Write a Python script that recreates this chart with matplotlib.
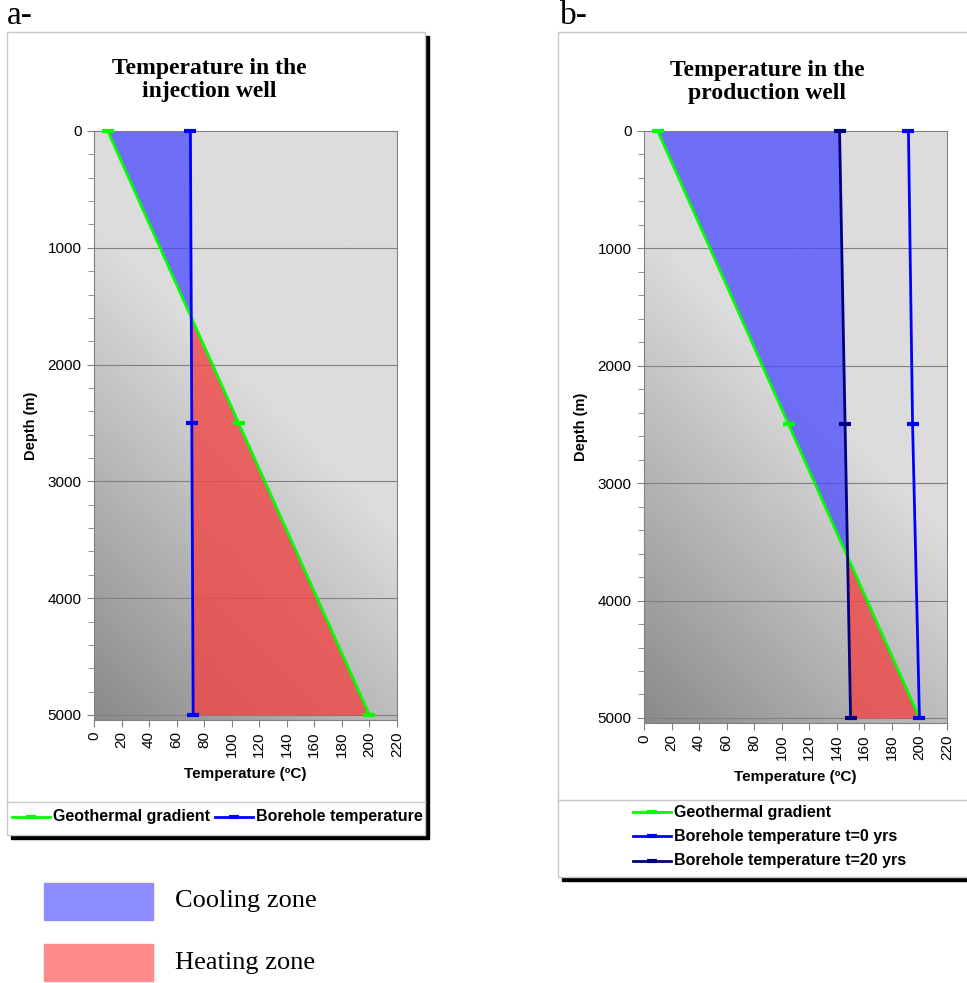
import numpy as np
import matplotlib
matplotlib.use('Agg')
import matplotlib.pyplot as plt
from matplotlib.patches import Rectangle
from matplotlib.lines import Line2D

# Dados
depth = [0, 2500, 5000]
geo_temp = [10, 105, 200]          # gradiente geotermico
inj_temp = [70, 71, 72]            # poco de injecao
prod_t0 = [192, 195, 200]          # poco de producao t=0
prod_t20 = [142, 146, 150]         # poco de producao t=20
x_ticks = list(range(0, 221, 20))
y_ticks = list(range(0, 5001, 1000))

W, H = 967, 983
fig = plt.figure(figsize=(W / 100, H / 100), dpi=100)
plt.rcParams['font.family'] = ['Liberation Sans', 'DejaVu Sans']


def fx(x):
    return x / W


def fy(y):
    return 1 - y / H


def frame(x0, y0, x1, y1):
    fig.patches.append(Rectangle((fx(x0 + 4), fy(y1 + 4)), fx(x1 - x0), (y1 - y0) / H,
                                 transform=fig.transFigure, color='black', zorder=-3))
    fig.patches.append(Rectangle((fx(x0), fy(y1)), fx(x1 - x0), (y1 - y0) / H,
                                 transform=fig.transFigure, facecolor='white',
                                 edgecolor='#c8c8c8', lw=1, zorder=-2))


frame(7, 32, 425, 835)
frame(558, 32, 975, 877)

# fundo em degrade
gx, gy = np.meshgrid(np.linspace(0, 1, 200), np.linspace(0, 1, 400))
t = (gx * 303 + gy * 589) / 892
grad = 0.54 + 0.32 * np.clip(t / 0.55, 0, 1)


def setup(ax):
    ax.imshow(grad, extent=[0, 1, 0, 1], transform=ax.transAxes, aspect='auto',
              cmap='gray', vmin=0, vmax=1, origin='lower', zorder=0)
    ax.set_xlim(0, 220)
    ax.set_ylim(5043, 0)
    ax.set_xticks(x_ticks)
    ax.set_xticklabels([str(v) for v in x_ticks], rotation=90, fontsize=11)
    ax.set_yticks(y_ticks)
    ax.set_yticks(range(0, 5001, 200), minor=True)
    ax.tick_params(axis='y', labelsize=11, length=5, color='#808080', pad=4)
    ax.tick_params(axis='y', which='minor', length=4, color='#808080')
    ax.tick_params(axis='x', length=5, color='#808080', pad=3)
    for v in y_ticks[1:]:
        ax.axhline(v, color='#808080', lw=0.8, zorder=1)
    for s in ax.spines.values():
        s.set_color('#808080')
    ax.set_ylabel('Depth (m)', fontsize=10.5, fontweight='bold')
    ax.set_xlabel('Temperature (ºC)', fontsize=11, fontweight='bold')
    ax.yaxis.set_label_coords(-0.185, 0.5)
    ax.xaxis.set_label_coords(0.5, -0.08)


def zones(ax, geo, bore):
    geo = np.array(geo)
    bore = np.array(bore)
    ax.fill_betweenx(depth, geo, bore, where=geo <= bore, interpolate=True,
                     color=(0.29, 0.29, 1.0), alpha=0.75, lw=0, zorder=2)
    ax.fill_betweenx(depth, geo, bore, where=geo >= bore, interpolate=True,
                     color=(0.94, 0.27, 0.27), alpha=0.8, lw=0, zorder=2)


mk = dict(marker='_', markersize=9, markeredgewidth=3)

# --- Painel a: poco de injecao ---
ax1 = fig.add_axes([fx(94), fy(720), fx(397 - 94), (720 - 131) / H])
setup(ax1)
zones(ax1, geo_temp, inj_temp)
g1, = ax1.plot(geo_temp, depth, color='#00ff00', lw=2, zorder=3, clip_on=False, **mk)
b1, = ax1.plot(inj_temp, depth, color='#0000ff', lw=2, zorder=3, clip_on=False, **mk)

# --- Painel b: poco de producao ---
ax2 = fig.add_axes([fx(644), fy(723), fx(947 - 644), (723 - 131) / H])
setup(ax2)
zones(ax2, geo_temp, prod_t20)
g2, = ax2.plot(geo_temp, depth, color='#00ff00', lw=2, zorder=3, clip_on=False, **mk)
b2, = ax2.plot(prod_t0, depth, color='#0000ff', lw=2, zorder=3, clip_on=False, **mk)
n2, = ax2.plot(prod_t20, depth, color='#000080', lw=2, zorder=3, clip_on=False, **mk)

# titulos
serif = ['Liberation Serif', 'DejaVu Serif']
fig.text(fx(209), fy(80), 'Temperature in the\ninjection well', ha='center', va='center',
         fontsize=17, fontweight='bold', family=serif, linespacing=1.15)
fig.text(fx(767), fy(82), 'Temperature in the\nproduction well', ha='center', va='center',
         fontsize=17, fontweight='bold', family=serif, linespacing=1.15)
fig.text(fx(7), fy(16), 'a-', ha='left', va='center', fontsize=24, family=serif)
fig.text(fx(560), fy(16), 'b-', ha='left', va='center', fontsize=24, family=serif)

# legendas das series
fig.add_artist(Line2D([fx(7), fx(425)], [fy(802), fy(802)], color='#c8c8c8', lw=1))
fig.add_artist(Line2D([fx(558), fx(967)], [fy(800), fy(800)], color='#c8c8c8', lw=1))


def leg_entry(line, x, y, label):
    fig.add_artist(Line2D([fx(x), fx(x + 38)], [fy(y), fy(y)], color=line.get_color(), lw=2))
    fig.add_artist(Line2D([fx(x + 19)], [fy(y)], color=line.get_color(), marker='_',
                          markersize=7, markeredgewidth=3))
    fig.text(fx(x + 41), fy(y), label, ha='left', va='center', fontsize=11.5, fontweight='bold')


leg_entry(g1, 12, 817, 'Geothermal gradient')
leg_entry(b1, 215, 817, 'Borehole temperature')
leg_entry(g2, 633, 812, 'Geothermal gradient')
leg_entry(b2, 633, 836, 'Borehole temperature t=0 yrs')
leg_entry(n2, 633, 861, 'Borehole temperature t=20 yrs')

# legenda das zonas
fig.patches.append(Rectangle((fx(44), fy(920)), fx(109), 37 / H, transform=fig.transFigure,
                             color='#8c8cff'))
fig.patches.append(Rectangle((fx(44), fy(981)), fx(109), 37 / H, transform=fig.transFigure,
                             color='#ff8c8c'))
fig.text(fx(175), fy(901), 'Cooling zone', ha='left', va='center', fontsize=19, family=serif)
fig.text(fx(175), fy(963), 'Heating zone', ha='left', va='center', fontsize=19, family=serif)

plt.savefig('out.png', dpi=100)
